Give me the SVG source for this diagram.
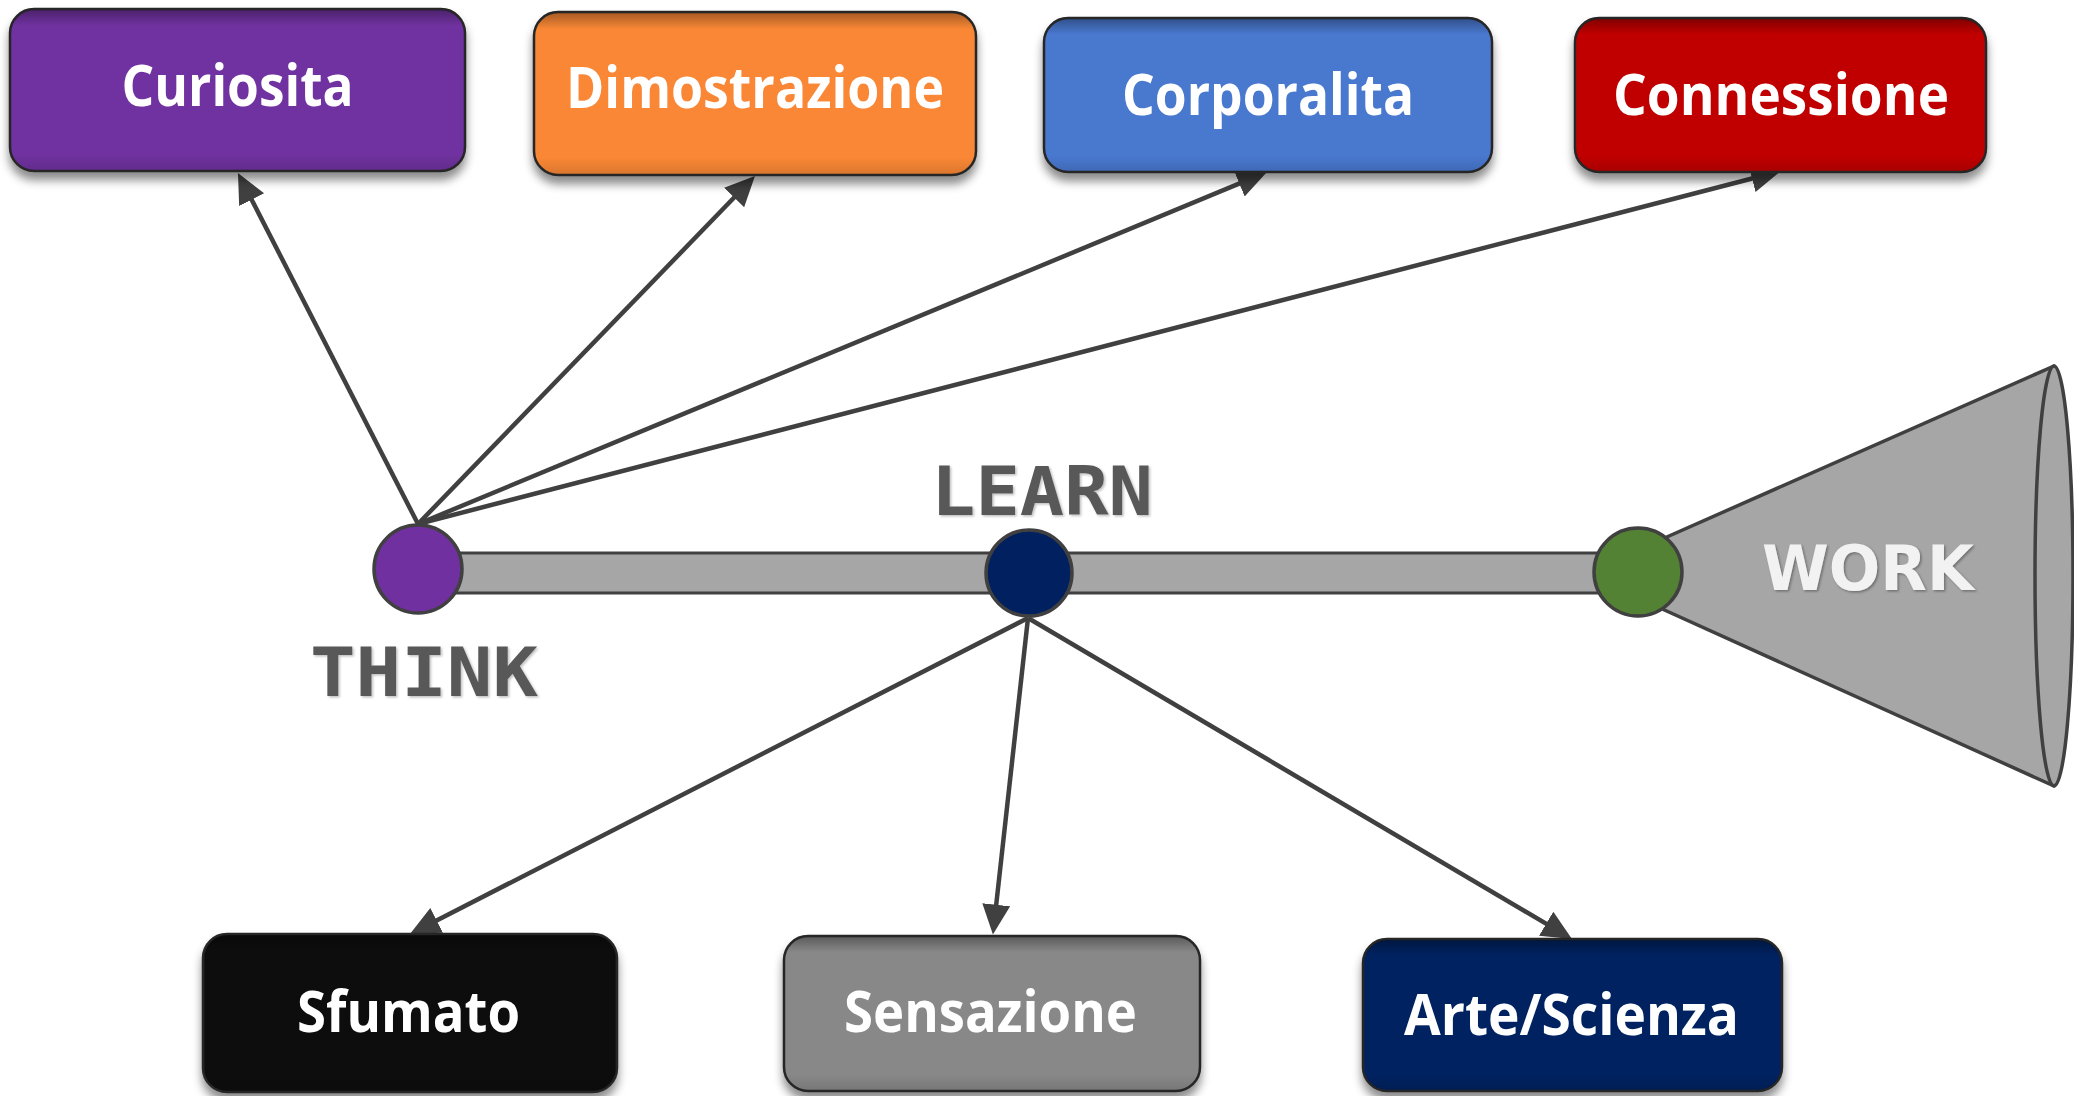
<svg xmlns="http://www.w3.org/2000/svg" width="2074" height="1096" viewBox="0 0 2074 1096">
<defs>
<style>
.box{stroke:#262626;stroke-width:2.5;filter:url(#shadow)}
.bevel{fill:url(#bev);stroke:none}
.lbl{font-family:"Open Sans","Noto Sans",sans-serif;font-weight:700;font-size:58px;fill:#ffffff;text-anchor:middle}
.stage{font-family:"DejaVu Sans Mono","Liberation Mono",monospace;font-weight:700;font-size:68px;fill:#595959;filter:url(#emb)}
.conn{fill:none;stroke:#404040;stroke-width:4.5;marker-end:url(#arr)}
.dot{stroke:#404040;stroke-width:3.5}
</style>
<filter id="shadow" x="-10%" y="-10%" width="120%" height="140%">
<feDropShadow dx="0" dy="8" stdDeviation="5" flood-color="#000" flood-opacity="0.45"/>
</filter>
<filter id="emb" x="-5%" y="-10%" width="110%" height="130%">
<feDropShadow dx="1.5" dy="1.5" stdDeviation="0.8" flood-color="#bfbfbf" flood-opacity="1"/>
</filter>
<filter id="wemb" x="-5%" y="-10%" width="110%" height="130%">
<feDropShadow dx="1.5" dy="1.5" stdDeviation="1" flood-color="#6f6f6f" flood-opacity="1"/>
</filter>
<linearGradient id="bev" x1="0" y1="0" x2="0" y2="1">
<stop offset="0" stop-color="#000" stop-opacity="0.32"/>
<stop offset="0.1" stop-color="#000" stop-opacity="0"/>
<stop offset="0.9" stop-color="#000" stop-opacity="0"/>
<stop offset="1" stop-color="#000" stop-opacity="0.12"/>
</linearGradient>
<marker id="arr" markerUnits="userSpaceOnUse" markerWidth="32" markerHeight="30" refX="22" refY="14" orient="auto">
<path d="M0,0 L30,14 L0,28 z" fill="#404040"/>
</marker>
</defs>
<rect width="2074" height="1096" fill="#ffffff"/>

<g id="track">
<rect x="418" y="553" width="1220" height="40" fill="#a6a6a6" stroke="#404040" stroke-width="3"/>
</g>

<g id="work">
<polygon points="1660,540 2054,366 2054,786 1660,608" fill="#a6a6a6" stroke="#404040" stroke-width="3.5" stroke-linejoin="round"/>
<ellipse cx="2054" cy="576" rx="19" ry="210" fill="#a6a6a6" stroke="#404040" stroke-width="3.5"/>
<text x="1762" y="590" textLength="212" lengthAdjust="spacingAndGlyphs" font-family="'DejaVu Sans','Verdana',sans-serif" font-weight="700" font-size="63" fill="#f2f2f2" filter="url(#wemb)">WORK</text>
</g>

<g id="connectors">
<path class="conn" d="M418,524 L241.6,180.1"/>
<path class="conn" d="M418,524 L749.4,181.8"/>
<path class="conn" d="M418,524 L1259.6,175.1"/>
<path class="conn" d="M418,524 L1773.3,173"/>
<path class="conn" d="M1028,618 L417.1,930.4"/>
<path class="conn" d="M1028,618 L993.8,926.6"/>
<path class="conn" d="M1028,618 L1565.1,934.9"/>
</g>

<g id="think">
<circle class="dot" cx="418" cy="569" r="44" fill="#7030a0"/>
<text class="stage" x="310" y="696" textLength="228" lengthAdjust="spacingAndGlyphs">THINK</text>
</g>
<g id="learn">
<circle class="dot" cx="1029" cy="573" r="43" fill="#002060"/>
<text class="stage" x="931" y="515" textLength="222" lengthAdjust="spacingAndGlyphs">LEARN</text>
</g>
<g id="workdot">
<circle class="dot" cx="1638" cy="572" r="44" fill="#548235"/>
</g>

<g id="curiosita">
<rect class="box" x="10" y="9" width="455" height="162" rx="24" fill="#7030a0"/>
<rect class="bevel" x="11" y="10" width="453" height="160" rx="23"/>
<text class="lbl" x="237.5" y="106" textLength="232" lengthAdjust="spacingAndGlyphs">Curiosita</text>
</g>
<g id="dimostrazione">
<rect class="box" x="534" y="12" width="442" height="163" rx="24" fill="#f98735"/>
<rect class="bevel" x="535" y="13" width="440" height="161" rx="23"/>
<text class="lbl" x="755" y="108" textLength="378" lengthAdjust="spacingAndGlyphs">Dimostrazione</text>
</g>
<g id="corporalita">
<rect class="box" x="1044" y="18" width="448" height="154" rx="24" fill="#4a78cf"/>
<rect class="bevel" x="1045" y="19" width="446" height="152" rx="23"/>
<text class="lbl" x="1268" y="115" textLength="292" lengthAdjust="spacingAndGlyphs">Corporalita</text>
</g>
<g id="connessione">
<rect class="box" x="1575" y="18" width="411" height="154" rx="24" fill="#c00000"/>
<rect class="bevel" x="1576" y="19" width="409" height="152" rx="23"/>
<text class="lbl" x="1781" y="115" textLength="336" lengthAdjust="spacingAndGlyphs">Connessione</text>
</g>
<g id="sfumato">
<rect class="box" x="203" y="934" width="414" height="158" rx="24" fill="#0d0d0d"/>
<rect class="bevel" x="204" y="935" width="412" height="156" rx="23"/>
<text class="lbl" x="408.5" y="1032" textLength="223" lengthAdjust="spacingAndGlyphs">Sfumato</text>
</g>
<g id="sensazione">
<rect class="box" x="784" y="936" width="416" height="155" rx="24" fill="#888888"/>
<rect class="bevel" x="785" y="937" width="414" height="153" rx="23"/>
<text class="lbl" x="990.5" y="1032" textLength="293" lengthAdjust="spacingAndGlyphs">Sensazione</text>
</g>
<g id="arte-scienza">
<rect class="box" x="1363" y="939" width="419" height="152" rx="24" fill="#002060"/>
<rect class="bevel" x="1364" y="940" width="417" height="150" rx="23"/>
<text class="lbl" x="1571.5" y="1035" textLength="335" lengthAdjust="spacingAndGlyphs">Arte/Scienza</text>
</g>
</svg>
